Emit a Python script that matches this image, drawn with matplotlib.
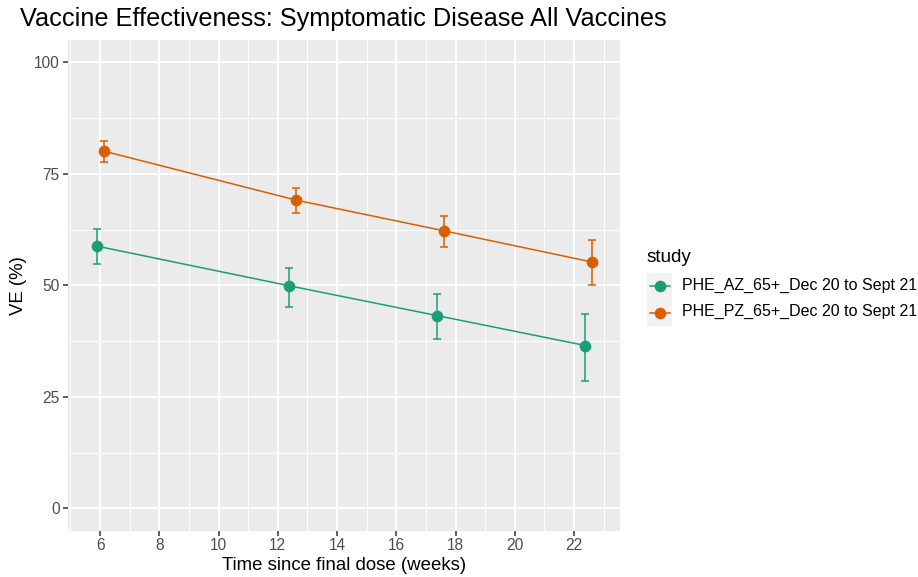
import matplotlib.pyplot as plt

plt.rcParams['font.family'] = ['Liberation Sans', 'DejaVu Sans']

# values (x already dodged per study)
study_labels = ['PHE_AZ_65+_Dec 20 to Sept 21', 'PHE_PZ_65+_Dec 20 to Sept 21']
study_colors = ['#1B9E77', '#D95F02']

az_weeks = [5.88, 12.38, 17.38, 22.38]
az_ve = [58.8, 49.9, 43.2, 36.5]
az_low = [54.7, 45.2, 38.0, 28.6]
az_high = [62.7, 53.9, 48.0, 43.6]

pz_weeks = [6.12, 12.62, 17.62, 22.62]
pz_ve = [80.1, 69.1, 62.2, 55.2]
pz_low = [77.6, 66.3, 58.6, 50.1]
pz_high = [82.4, 71.9, 65.5, 60.1]

x_ticks = [6, 8, 10, 12, 14, 16, 18, 20, 22]
x_minor = [5, 7, 9, 11, 13, 15, 17, 19, 21, 23]
y_ticks = [0, 25, 50, 75, 100]
y_minor = [12.5, 37.5, 62.5, 87.5]

W, H = 918, 577
fig = plt.figure(figsize=(W / 100, H / 100), dpi=100)
ax = fig.add_axes([67.5 / W, 1 - 530.6 / H, (620 - 67.5) / W, (530.6 - 40) / H])
ax.set_facecolor('#EBEBEB')
for s in ax.spines.values():
    s.set_visible(False)

ax.set_xlim(4.9, 23.55)
ax.set_ylim(-5, 105)
ax.set_xticks(x_ticks)
ax.set_yticks(y_ticks)
ax.set_xticks(x_minor, minor=True)
ax.set_yticks(y_minor, minor=True)
ax.grid(which='major', color='white', linewidth=1.4)
ax.grid(which='minor', color='white', linewidth=0.7)
ax.set_axisbelow(True)
ax.tick_params(which='major', length=3.5, width=1.1, color='#333333',
               labelsize=11.2, labelcolor='#4D4D4D', pad=2)
ax.tick_params(which='minor', length=0)

series = [
    (az_weeks, az_ve, az_low, az_high),
    (pz_weeks, pz_ve, pz_low, pz_high),
]
for (wk, ve, lo, hi), col in zip(series, study_colors):
    yerr = [[v - l for v, l in zip(ve, lo)], [h - v for v, h in zip(ve, hi)]]
    ax.errorbar(wk, ve, yerr=yerr, fmt='none', ecolor=col, elinewidth=1.1,
                capsize=2.7, capthick=1.1, zorder=3)
    ax.plot(wk, ve, color=col, linewidth=1.1, zorder=3)
    ax.plot(wk, ve, 'o', color=col, markersize=7.4, zorder=4)

ax.set_xlabel('Time since final dose (weeks)', fontsize=13.4, color='black', labelpad=2.5)
ax.set_ylabel('VE (%)', fontsize=13.4, color='black', labelpad=5)
fig.text(20 / W, 1 - 19 / H, 'Vaccine Effectiveness: Symptomatic Disease All Vaccines',
         fontsize=18.2, ha='left', va='center')

# legend
fig.text(647 / W, 1 - 257 / H, 'study', fontsize=13.6, ha='left', va='center')
lax = fig.add_axes([647 / W, 1 - 326 / H, 25 / W, 53 / H])
lax.set_facecolor('#F2F2F2')
lax.set_xlim(0, 1)
lax.set_ylim(0, 2)
lax.set_xticks([])
lax.set_yticks([])
for s in lax.spines.values():
    s.set_visible(False)
for i, (lab, col) in enumerate(zip(study_labels, study_colors)):
    yk = 1.5 - i
    lax.plot([0.1, 0.9], [yk, yk], color=col, linewidth=1.1)
    lax.plot([0.5], [yk], 'o', color=col, markersize=7.4)
    fig.text(682 / W, 1 - (285.3 + 25.7 * i) / H, lab, fontsize=11.5,
             ha='left', va='center')

fig.savefig('out.png', dpi=100)
